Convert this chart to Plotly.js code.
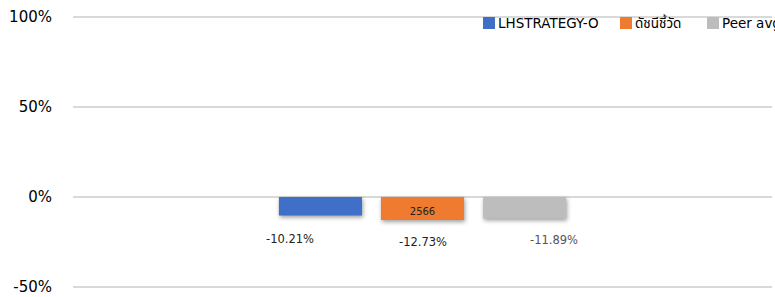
<!DOCTYPE html>
<html>
<head>
<meta charset="utf-8">
<script src="https://cdn.plot.ly/plotly-3.0.1.min.js"></script>
<style>
html,body{margin:0;padding:0;background:#fff;overflow:hidden;width:775px;height:297px;}
#chart{width:820px;height:297px;}
#chart .barlayer .point path{filter:drop-shadow(1px 2px 2px rgba(0,0,0,0.38));}
</style>
</head>
<body>
<div id="chart"></div>
<script>
// ---- data ----
const category = [" "];
const seriesNames = ["LHSTRATEGY-O", "ดัชนีชี้วัด", "Peer avg"];
const seriesValues = [-10.21, -12.73, -11.89];
const valueLabels = ["-10.21%", "-12.73%", "-11.89%"];
const innerLabels = ["", "2566", ""];
const yTickValues = [-50, 0, 50, 100];
const yTickLabels = ["-50%", "0%", "50%", "100%"];

// ---- styles ----
const colors = ["#3f6fc6", "#ee7b30", "#bdbdbd"];
const labelColors = ["#222222", "#222222", "#555555"];
const labelShiftX = [-31, 0, 30];
const labelShiftY = [-24, -22, -21];
const FONT = "Tahoma, 'DejaVu Sans', 'Noto Sans Thai', sans-serif";

// plot area geometry (pixels) used for the hand-placed legend
const PLOT_L = 73, PLOT_W = 699, PLOT_T = 15, PLOT_H = 274;
const legendSquareX = [483, 620, 707];
const legendTextX = [496, 633, 720];
const legendY = 23;
const px2x = px => (px - PLOT_L) / PLOT_W;
const px2y = py => (PLOT_T + PLOT_H - py) / PLOT_H;

const traces = seriesNames.map((name, i) => ({
  type: "bar",
  name: name,
  x: category,
  y: [seriesValues[i]],
  marker: { color: colors[i] },
  text: [innerLabels[i]],
  textposition: "inside",
  insidetextanchor: "end",
  textfont: { family: FONT, size: 10, color: "#222" },
  hoverinfo: "none",
  cliponaxis: false
}));

const annotations = seriesNames.map((name, i) => ({
  xref: "x", yref: "y",
  x: category[0], y: seriesValues[i],
  text: valueLabels[i],
  showarrow: false,
  xshift: labelShiftX[i] + (i - 1) * 101.7,
  yshift: labelShiftY[i],
  font: { family: FONT, size: 11.5, color: labelColors[i] }
}));

// legend entries
seriesNames.forEach((name, i) => {
  annotations.push({
    xref: "paper", yref: "paper",
    x: px2x(legendTextX[i]), y: px2y(legendY),
    xanchor: "left", yanchor: "middle",
    text: name, showarrow: false,
    font: { family: FONT, size: 13.5, color: "#000" }
  });
});
const shapes = seriesNames.map((name, i) => ({
  type: "rect", xref: "paper", yref: "paper",
  x0: px2x(legendSquareX[i]), x1: px2x(legendSquareX[i] + 12),
  y0: px2y(legendY + 6), y1: px2y(legendY - 6),
  fillcolor: colors[i], line: { width: 0 }
}));

const layout = {
  width: 820, height: 297,
  margin: { l: PLOT_L, r: 820 - PLOT_L - PLOT_W, t: PLOT_T, b: 297 - PLOT_T - PLOT_H },
  paper_bgcolor: "#ffffff",
  plot_bgcolor: "#ffffff",
  font: { family: FONT, color: "#000" },
  barmode: "group",
  bargap: 0.562,
  bargroupgap: 0.186,
  showlegend: false,
  xaxis: {
    type: "category",
    showticklabels: false,
    showgrid: false,
    zeroline: false,
    showline: false,
    ticks: ""
  },
  yaxis: {
    range: [-51, 101],
    tickvals: yTickValues,
    ticktext: yTickLabels,
    showgrid: true,
    gridcolor: "#d9d9d9",
    gridwidth: 1.5,
    zeroline: true,
    zerolinecolor: "#d9d9d9",
    zerolinewidth: 1.5,
    showline: false,
    ticks: "",
    ticklabelstandoff: 20,
    tickfont: { family: FONT, size: 15, color: "#000" }
  },
  shapes: shapes,
  annotations: annotations
};

Plotly.newPlot("chart", traces, layout, { displayModeBar: false, staticPlot: true });
</script>
</body>
</html>
